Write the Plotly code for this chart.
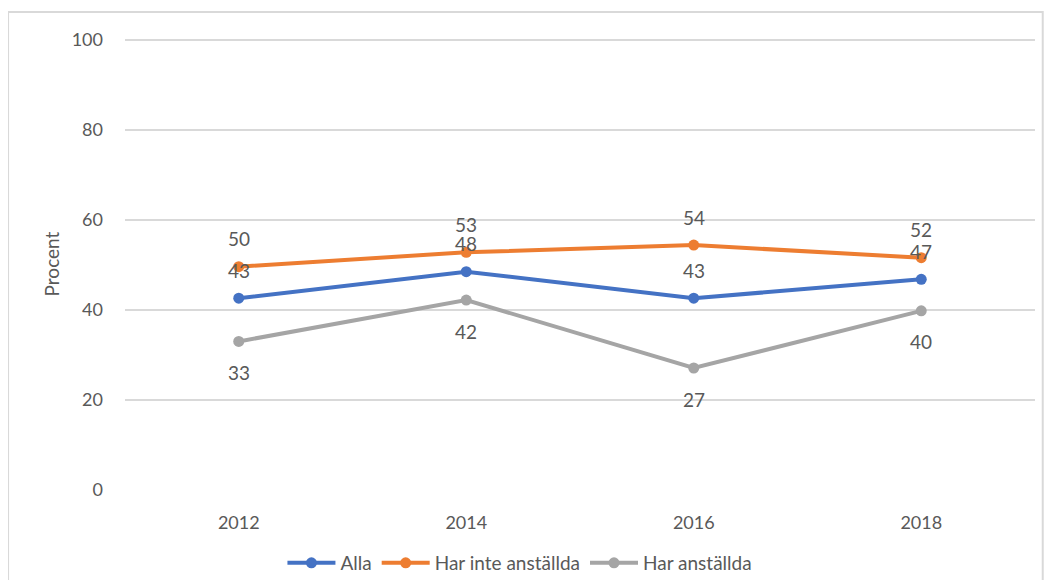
import plotly.graph_objects as go

years = ["2012", "2014", "2016", "2018"]
alla = [42.6, 48.5, 42.6, 46.8]
har_inte = [49.6, 52.8, 54.4, 51.6]
har = [33.0, 42.2, 27.1, 39.8]
y_ticks = [0, 20, 40, 60, 80, 100]

series = [
    ("Alla", alla, "#4472C4", 28),
    ("Har inte anställda", har_inte, "#ED7D31", 28),
    ("Har anställda", har, "#A5A5A5", -31),
]

FONT = "Lato, Open Sans, sans-serif"
TXT = "#595959"

fig = go.Figure()
annotations = []
for name, vals, color, shift in series:
    fig.add_trace(go.Scatter(
        x=years, y=vals, name=name, mode="lines+markers",
        line=dict(color=color, width=4),
        marker=dict(color=color, size=11),
    ))
    for i, yv in enumerate(vals):
        annotations.append(dict(
            xref="x", yref="y", x=i, y=yv, text=f"{round(yv)}", showarrow=False,
            yshift=shift, font=dict(family=FONT, size=19, color=TXT),
        ))

# outer chart border
border = [dict(
    type="rect", xref="paper", yref="paper",
    x0=-0.1285, x1=1.0085, y0=-0.26, y1=1.0575,
    line=dict(color="#D9D9D9", width=2), fillcolor="rgba(0,0,0,0)",
    layer="below",
)]

fig.update_layout(
    width=1036, height=572,
    margin=dict(l=117, r=9, t=30, b=90, autoexpand=False),
    paper_bgcolor="white", plot_bgcolor="white",
    font=dict(family=FONT, size=18, color=TXT),
    showlegend=True,
    legend=dict(orientation="h", x=0.434, xanchor="center", y=-0.1615, yanchor="middle",
                font=dict(family=FONT, size=19, color=TXT), itemwidth=48,
                traceorder="normal"),
    annotations=annotations,
    shapes=border,
    xaxis=dict(type="category", range=[-0.5, 3.5], showgrid=False, zeroline=False,
               showline=False, ticks="", tickfont=dict(size=18, color=TXT),
               ticklabelstandoff=20, automargin=False),
    yaxis=dict(range=[0, 100.4], tickvals=y_ticks, showgrid=True, gridcolor="#D9D9D9",
               gridwidth=1.5, zeroline=False, showline=False, automargin=False,
               tickfont=dict(size=18, color=TXT), ticklabelstandoff=21,
               title=dict(text="Procent", font=dict(size=19, color=TXT), standoff=7)),
)

fig.write_html("out.html")
